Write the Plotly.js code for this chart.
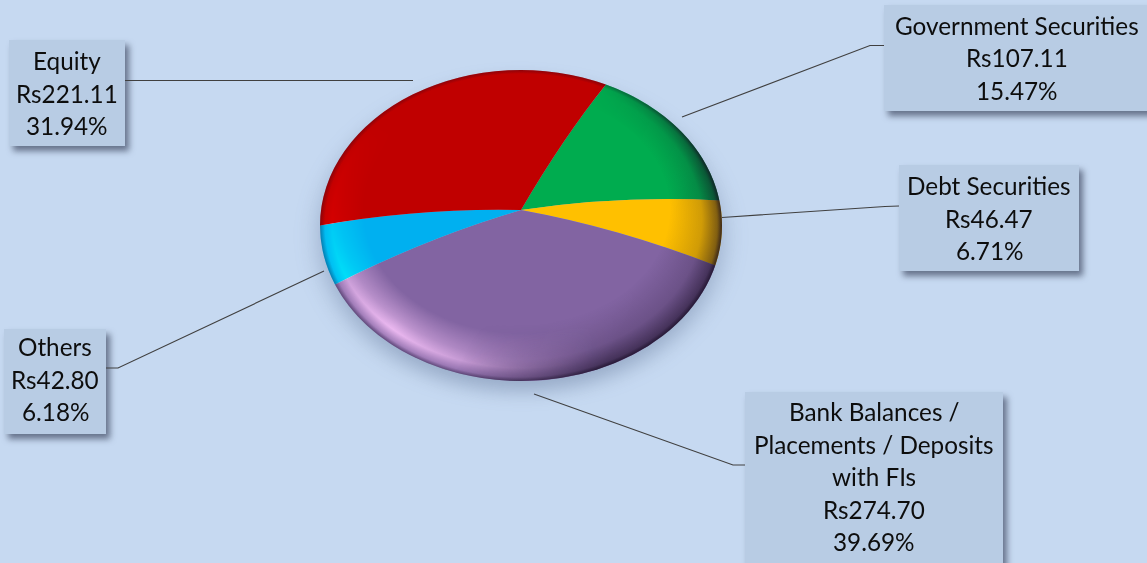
<!DOCTYPE html>
<html>
<head>
<meta charset="utf-8">
<script src="https://cdn.plot.ly/plotly-3.0.1.min.js"></script>
<style>
html,body{margin:0;padding:0;background:#C6D9F1;overflow:hidden}
#chart{width:1147px;height:563px}
text{font-variant-ligatures:none}
</style>
</head>
<body>
<div id="chart"></div>
<script>
// Portfolio allocation, clockwise from the Government Securities wedge
const categories = ['Government Securities', 'Debt Securities', 'Bank Balances / Placements / Deposits with FIs', 'Others', 'Equity'];
const amounts = [107.11, 46.47, 274.70, 42.80, 221.11];
const percentages = ['15.47%', '6.71%', '39.69%', '6.18%', '31.94%'];
const sliceColors = ['#00AC4F', '#FFC000', '#8264A2', '#00B0F0', '#C00000'];

// Category captions broken across lines for the callout boxes
const captionLines = [
  ['Government Securities'],
  ['Debt Securities'],
  ['Bank Balances /', 'Placements / Deposits', 'with FIs'],
  ['Others'],
  ['Equity']
];

// Callout boxes in page pixels: left, top, right, bottom, first text line
const calloutBoxes = [
  [884, 5, 1150, 111, 25.5],
  [899, 165, 1079, 271, 185.5],
  [745, 392, 1003, 570, 411.5],
  [4, 329, 106, 434, 346.5],
  [9, 40, 125, 146, 60.5]
];
const lineStep = 32.5;

// Leader lines in page pixels
const leaders = [
  [[682, 117], [870, 45.5], [884, 45.5]],
  [[722, 217.5], [885, 206.5], [899, 206]],
  [[534, 394], [733, 465], [745, 465]],
  [[324, 271], [118, 368], [106, 368]],
  [[413, 80.5], [125, 80.5]]
];

const W = 1147, H = 563;
const px = x => x / W;
const py = y => 1 - y / H;

// Ellipse of the tilted disc, the raised position of its apex and the bow of its wedge edges
const discLeft = 320, discRight = 722, discTop = 70, discBottom = 381;
const apexLift = 15.5;
const edgeBow = 10;
const rx = (discRight - discLeft) / 2, ry = (discBottom - discTop) / 2;
const cyPage = (discTop + discBottom) / 2;
const tilt = ry / rx;

const shapes = [];
calloutBoxes.forEach(b => shapes.push({
  type: 'rect', xref: 'paper', yref: 'paper', layer: 'below',
  x0: px(b[0]), x1: px(b[2]), y0: py(b[1]), y1: py(b[3]),
  fillcolor: '#B8CCE4', line: {width: 0}
}));
leaders.forEach(pts => shapes.push({
  type: 'path', xref: 'paper', yref: 'paper', layer: 'below',
  path: 'M' + pts.map(p => px(p[0]) + ',' + py(p[1])).join('L'),
  line: {color: '#404040', width: 1.1}
}));

const annotations = [];
categories.forEach((c, i) => {
  const b = calloutBoxes[i];
  const rows = captionLines[i].concat(['Rs' + amounts[i].toFixed(2), percentages[i]]);
  const mid = (b[0] + Math.min(b[2], W + 3)) / 2;
  rows.forEach((t, j) => annotations.push({
    xref: 'paper', yref: 'paper', x: px(mid), y: py(b[4] + j * lineStep),
    text: t, showarrow: false, xanchor: 'center', yanchor: 'middle',
    font: {family: 'Lato, Carlito, sans-serif', size: 24.3, color: '#0d0d0d'}
  }));
});

// Rim shading of the disc: darker to the right and lower right
const darkRim = `<svg xmlns="http://www.w3.org/2000/svg" width="402" height="311" viewBox="0 0 402 311">
<defs>
<radialGradient id="d" cx=".5" cy=".5" r=".5" fx=".5" fy=".3">
<stop offset=".74" stop-color="#140a20" stop-opacity="0"/>
<stop offset=".9" stop-color="#140a20" stop-opacity=".2"/>
<stop offset=".98" stop-color="#140a20" stop-opacity=".55"/>
<stop offset="1" stop-color="#140a20" stop-opacity=".75"/>
</radialGradient>
<radialGradient id="e" cx=".5" cy=".5" r=".5" fx=".5" fy=".5">
<stop offset=".975" stop-color="#140a20" stop-opacity="0"/>
<stop offset="1" stop-color="#140a20" stop-opacity=".3"/>
</radialGradient>
<linearGradient id="m" x1=".55" y1=".4" x2=".95" y2=".55">
<stop offset="0" stop-color="#000"/><stop offset=".8" stop-color="#fff"/>
</linearGradient>
<mask id="k"><rect width="402" height="311" fill="url(#m)"/></mask>
</defs>
<ellipse cx="201" cy="155.5" rx="201" ry="155.5" fill="url(#e)"/>
<ellipse cx="201" cy="155.5" rx="201" ry="155.5" fill="url(#d)" mask="url(#k)"/>
</svg>`;

// Rim highlight: a narrow bright band along the lower left
const lightRim = `<svg xmlns="http://www.w3.org/2000/svg" x="${discLeft}" y="${discTop}" width="402" height="311" viewBox="0 0 402 311" style="mix-blend-mode:overlay">
<defs>
<radialGradient id="rimBand" cx=".5" cy=".5" r=".5" fx=".5" fy=".3">
<stop offset=".78" stop-color="#fff" stop-opacity="0"/>
<stop offset=".89" stop-color="#fff" stop-opacity=".5"/>
<stop offset=".94" stop-color="#fff" stop-opacity=".85"/>
<stop offset=".985" stop-color="#fff" stop-opacity=".25"/>
<stop offset="1" stop-color="#fff" stop-opacity="0"/>
</radialGradient>
<radialGradient id="rimSpot" gradientUnits="userSpaceOnUse" cx="75" cy="255" r="200">
<stop offset="0" stop-color="#fff"/><stop offset=".3" stop-color="#bbb"/><stop offset=".65" stop-color="#555"/><stop offset="1" stop-color="#000"/>
</radialGradient>
<mask id="rimMask"><rect width="402" height="311" fill="url(#rimSpot)"/></mask>
</defs>
<ellipse cx="201" cy="155.5" rx="201" ry="155.5" fill="url(#rimBand)" mask="url(#rimMask)"/>
</svg>`;

const toUri = s => 'data:image/svg+xml;base64,' + btoa(s);

const trace = {
  type: 'pie', labels: categories, values: amounts,
  sort: false, direction: 'clockwise', rotation: 25,
  marker: {colors: sliceColors, line: {width: 0}},
  textinfo: 'none', hoverinfo: 'label+value+percent', showlegend: false,
  domain: {x: [px(discLeft), px(discRight)], y: [py(cyPage + rx), py(cyPage - rx)]}
};

const layout = {
  width: W, height: H, margin: {l: 0, r: 0, t: 0, b: 0},
  paper_bgcolor: '#C6D9F1', plot_bgcolor: '#C6D9F1', showlegend: false,
  shapes, annotations,
  images: [{
    source: toUri(darkRim), xref: 'paper', yref: 'paper', layer: 'above',
    x: px(discLeft), y: py(discTop), sizex: (discRight - discLeft) / W, sizey: (discBottom - discTop) / H,
    xanchor: 'left', yanchor: 'top', sizing: 'stretch'
  }]
};

Plotly.newPlot('chart', [trace], layout, {staticPlot: true, displayModeBar: false}).then(gd => {
  // Flatten the round pie into the tilted disc, lift its apex and bow the wedge edges
  const lift = apexLift / tilt, bow = edgeBow / tilt;
  const paths = Array.from(gd.querySelectorAll('.pielayer .slice path.surface'));
  const parsed = paths.map(p => {
    const d = p.getAttribute('d');
    const m = d.match(/^M([-\d.]+),([-\d.]+)l([-\d.]+),([-\d.]+)(.*)Z$/);
    return {x: +m[1], y: +m[2], dx: +m[3], dy: +m[4], arcs: m[5]};
  });
  const cy = parsed[0].y;
  const apexY = cy - lift;
  const ctrl = q => `${q.x + q.dx / 2},${(apexY + cy + q.dy) / 2 - bow}`;
  paths.forEach((p, i) => {
    const a = parsed[i], b = parsed[(i + 1) % parsed.length];
    p.setAttribute('d',
      `M${a.x},${apexY}Q${ctrl(a)} ${a.x + a.dx},${a.y + a.dy}${a.arcs}Q${ctrl(b)} ${a.x},${apexY}Z`);
  });
  const pieLayer = gd.querySelector('.pielayer');
  pieLayer.setAttribute('transform', `translate(0,${cy}) scale(1,${tilt}) translate(0,${-cy})`);
  pieLayer.style.filter = 'drop-shadow(0px 14px 12px rgba(70,90,125,0.35))';

  // The highlight sits directly over the pie and brightens hues without washing them out
  pieLayer.insertAdjacentElement('afterend',
    new DOMParser().parseFromString(lightRim, 'image/svg+xml').documentElement);

  // Soft shadows behind the callout boxes
  gd.querySelectorAll('.shapelayer path').forEach(p => {
    if (+p.getAttribute('data-index') < calloutBoxes.length) {
      p.style.filter = 'drop-shadow(4px 5px 3px rgba(50,60,85,0.65))';
    }
  });
});
</script>
</body>
</html>
